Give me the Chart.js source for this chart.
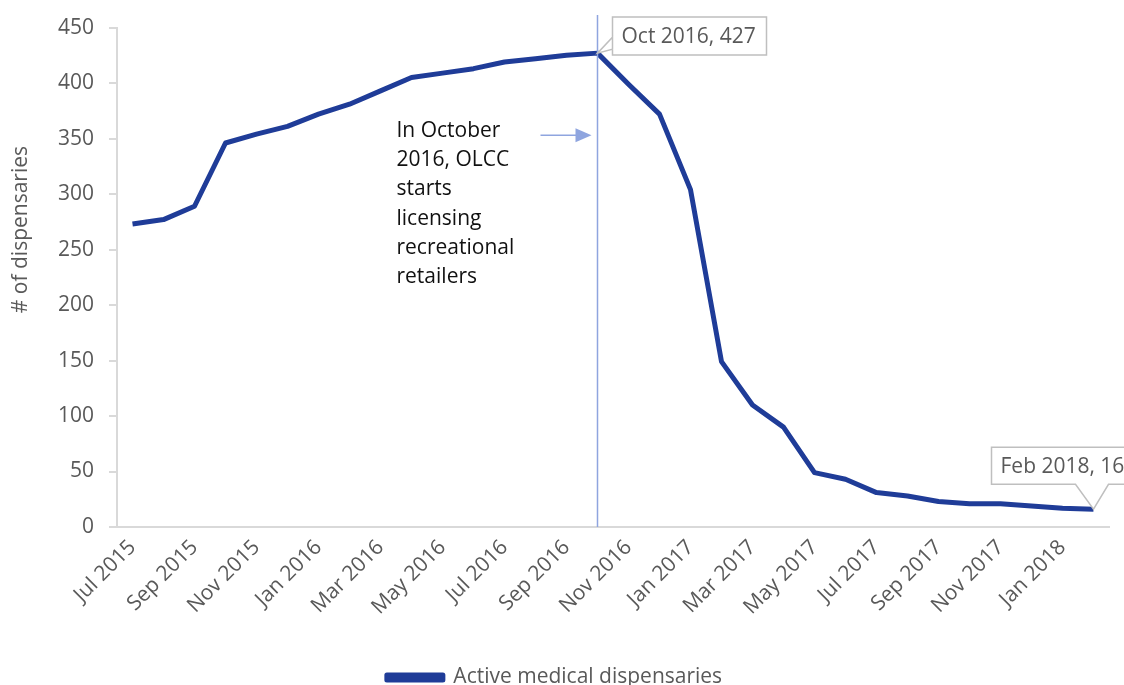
<!DOCTYPE html>
<html>
<head>
<meta charset="utf-8">
<script src="https://cdn.jsdelivr.net/npm/chart.js@4.4.1/dist/chart.umd.min.js"></script>
<style>
  html, body { margin: 0; padding: 0; background: #fff; }
  #wrap { width: 1124px; height: 685px; position: relative; }
</style>
</head>
<body>
<div id="wrap"><canvas id="chart"></canvas></div>
<script>
// ─── DATA ────────────────────────────────────────────────────────────────────
const months = [
  'Jul 2015', 'Aug 2015', 'Sep 2015', 'Oct 2015', 'Nov 2015', 'Dec 2015',
  'Jan 2016', 'Feb 2016', 'Mar 2016', 'Apr 2016', 'May 2016', 'Jun 2016',
  'Jul 2016', 'Aug 2016', 'Sep 2016', 'Oct 2016', 'Nov 2016', 'Dec 2016',
  'Jan 2017', 'Feb 2017', 'Mar 2017', 'Apr 2017', 'May 2017', 'Jun 2017',
  'Jul 2017', 'Aug 2017', 'Sep 2017', 'Oct 2017', 'Nov 2017', 'Dec 2017',
  'Jan 2018', 'Feb 2018'
];
const dispensaries = [
  273, 277, 289, 346, 354, 361,
  372, 381, 393, 405, 409, 413,
  419, 422, 425, 427, 399, 372,
  304, 149, 110, 90, 49, 43,
  31, 28, 23, 21, 21, 19,
  17, 16
];
const yTicks = [0, 50, 100, 150, 200, 250, 300, 350, 400, 450];
const seriesName = 'Active medical dispensaries';
const yTitle = '# of dispensaries';
const noteLines = ['In October', '2016, OLCC', 'starts', 'licensing', 'recreational', 'retailers'];
const eventIndex = 15;   // Oct 2016
const lastIndex = dispensaries.length - 1;

const GREY = '#595959';
const AXIS = '#d9d9d9';
const LINE = '#1f3c98';
const ACCENT = '#8fa5df';
const FONT = "'Open Sans', sans-serif";
const FS = 21;

// ─── ANNOTATIONS ─────────────────────────────────────────────────────────────
function callout(ctx, text, box, tip, base) {
  ctx.save();
  ctx.fillStyle = '#fff';
  ctx.strokeStyle = '#bfbfbf';
  ctx.lineWidth = 1.5;
  ctx.beginPath();
  ctx.moveTo(box.l, box.t);
  ctx.lineTo(box.l + box.w, box.t);
  ctx.lineTo(box.l + box.w, box.t + box.h);
  if (base.side === 'bottom') {
    ctx.lineTo(base.b, box.t + box.h);
    ctx.lineTo(tip.x, tip.y);
    ctx.lineTo(base.a, box.t + box.h);
    ctx.lineTo(box.l, box.t + box.h);
    ctx.closePath();
  } else {
    ctx.lineTo(box.l, box.t + box.h);
    ctx.lineTo(box.l, base.b);
    ctx.lineTo(tip.x, tip.y);
    ctx.lineTo(box.l, base.a);
    ctx.closePath();
  }
  ctx.fill();
  ctx.stroke();
  ctx.fillStyle = GREY;
  ctx.font = `${FS}px ${FONT}`;
  ctx.textBaseline = 'middle';
  ctx.textAlign = 'left';
  ctx.fillText(text, box.l + 9, box.t + box.h / 2 + 1);
  ctx.restore();
}

const annotations = {
  id: 'annotations',
  afterDatasetsDraw(chart) {
    const { ctx, scales: { x, y } } = chart;
    const vx = x.getPixelForValue(eventIndex);

    // vertical marker
    ctx.save();
    ctx.strokeStyle = ACCENT;
    ctx.lineWidth = 1.5;
    ctx.beginPath();
    ctx.moveTo(vx, 15);
    ctx.lineTo(vx, y.bottom);
    ctx.stroke();

    // arrow
    const ay = y.getPixelForValue(353);
    ctx.beginPath();
    ctx.moveTo(vx - 57, ay);
    ctx.lineTo(vx - 20, ay);
    ctx.stroke();
    ctx.fillStyle = ACCENT;
    ctx.beginPath();
    ctx.moveTo(vx - 22, ay - 7);
    ctx.lineTo(vx - 6, ay);
    ctx.lineTo(vx - 22, ay + 7);
    ctx.closePath();
    ctx.fill();

    // note text
    ctx.fillStyle = '#111';
    ctx.font = `${FS}px ${FONT}`;
    ctx.textBaseline = 'middle';
    ctx.textAlign = 'left';
    const ty = y.getPixelForValue(357);
    noteLines.forEach((t, i) => ctx.fillText(t, vx - 201, ty + i * 29.3));

    // axis title
    ctx.fillStyle = GREY;
    ctx.translate(21, y.getPixelForValue(268));
    ctx.rotate(-Math.PI / 2);
    ctx.textAlign = 'center';
    ctx.fillText(yTitle, 0, 0);
    ctx.restore();

    // data callouts
    const p1 = { x: vx, y: y.getPixelForValue(dispensaries[eventIndex]) };
    callout(ctx, `${months[eventIndex]}, ${dispensaries[eventIndex]}`,
      { l: p1.x + 15, t: p1.y - 36, w: 154, h: 38 }, p1,
      { side: 'left', a: p1.y - 4, b: p1.y - 16 });

    const p2 = { x: x.getPixelForValue(lastIndex), y: y.getPixelForValue(dispensaries[lastIndex]) };
    callout(ctx, `${months[lastIndex]}, ${dispensaries[lastIndex]}`,
      { l: p2.x - 102, t: p2.y - 62, w: 160, h: 37 }, p2,
      { side: 'bottom', a: p2.x - 18, b: p2.x + 15 });
  }
};

// ─── CHART ───────────────────────────────────────────────────────────────────
new Chart(document.getElementById('chart'), {
  type: 'line',
  data: {
    labels: months,
    datasets: [{
      label: seriesName,
      data: dispensaries,
      borderColor: LINE,
      backgroundColor: LINE,
      borderWidth: 5,
      pointRadius: 0,
      tension: 0,
      borderJoinStyle: 'round'
    }]
  },
  options: {
    responsive: true,
    maintainAspectRatio: false,
    animation: false,
    layout: { padding: { left: 0, right: 15, top: 27, bottom: -13 } },
    plugins: {
      tooltip: { enabled: false },
      legend: {
        position: 'bottom',
        labels: {
          color: GREY,
          font: { family: FONT, size: FS },
          boxWidth: 56,
          boxHeight: 5,
          padding: 10
        }
      }
    },
    scales: {
      x: {
        type: 'category',
        offset: true,
        grid: { display: true, drawOnChartArea: false, drawTicks: false },
        border: { color: AXIS, width: 2 },
        ticks: {
          color: GREY,
          font: { family: FONT, size: FS },
          autoSkip: false,
          maxRotation: 45,
          minRotation: 45,
          padding: 8,
          callback: (v, i) => (i % 2 === 0 ? months[i] : '')
        },
        afterFit: s => { s.height = 130; }
      },
      y: {
        min: 0,
        max: 450,
        afterBuildTicks: s => { s.ticks = yTicks.map(v => ({ value: v })); },
        grid: { drawOnChartArea: false, drawTicks: true, tickLength: 8, color: AXIS, lineWidth: 2 },
        border: { color: AXIS, width: 2 },
        ticks: { color: GREY, font: { family: FONT, size: FS }, padding: 15 },
        afterFit: s => { s.width = 117; }
      }
    }
  },
  plugins: [annotations]
});
</script>
</body>
</html>
